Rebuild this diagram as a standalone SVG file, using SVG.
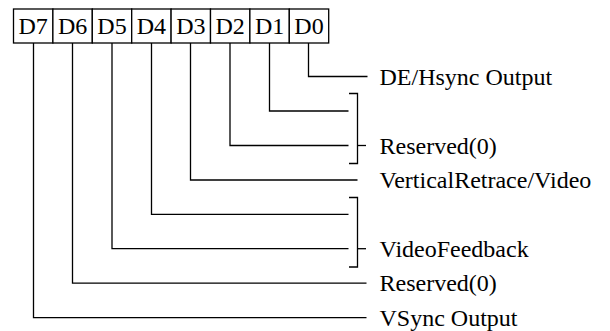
<svg xmlns="http://www.w3.org/2000/svg" width="610" height="331" viewBox="0 0 610 331">
<style>
.ln{stroke:#000;stroke-width:1.3;fill:none}
.cell{stroke:#000;stroke-width:1.3;fill:#fff}
.t{font-family:"Liberation Serif","Times New Roman",serif;font-size:24px;fill:#000}
.c{text-anchor:middle}
</style>
<rect width="610" height="331" fill="#fff"/>
<g id="register">
<g id="d7"><rect class="cell" x="13.5" y="9" width="39.4" height="34"/><text class="t c" x="33.2" y="34">D7</text></g>
<g id="d6"><rect class="cell" x="52.9" y="9" width="39.4" height="34"/><text class="t c" x="72.6" y="34">D6</text></g>
<g id="d5"><rect class="cell" x="92.3" y="9" width="39.4" height="34"/><text class="t c" x="112" y="34">D5</text></g>
<g id="d4"><rect class="cell" x="131.7" y="9" width="39.4" height="34"/><text class="t c" x="151.4" y="34">D4</text></g>
<g id="d3"><rect class="cell" x="171.1" y="9" width="39.4" height="34"/><text class="t c" x="190.8" y="34">D3</text></g>
<g id="d2"><rect class="cell" x="210.5" y="9" width="39.4" height="34"/><text class="t c" x="230.2" y="34">D2</text></g>
<g id="d1"><rect class="cell" x="249.9" y="9" width="39.4" height="34"/><text class="t c" x="269.6" y="34">D1</text></g>
<g id="d0"><rect class="cell" x="289.3" y="9" width="39.4" height="34"/><text class="t c" x="309" y="34">D0</text></g>
</g>
<g id="connectors">
<polyline class="ln" points="308.5,43 308.5,76.5 367.5,76.5"/>
<polyline class="ln" points="269.5,43 269.5,111 348.5,111"/>
<polyline class="ln" points="230,43 230,145.5 348.5,145.5"/>
<polyline class="ln" points="190.5,43 190.5,180 357.5,180"/>
<polyline class="ln" points="151.5,43 151.5,214.3 348.5,214.3"/>
<polyline class="ln" points="112,43 112,248.7 348.5,248.7"/>
<polyline class="ln" points="72.5,43 72.5,283.2 366.5,283.2"/>
<polyline class="ln" points="33.5,43 33.5,317.6 366.5,317.6"/>
<polyline class="ln" points="349,93.5 357.5,93.5 357.5,163.5 349,163.5"/>
<line class="ln" x1="357.5" y1="145.5" x2="366" y2="145.5"/>
<polyline class="ln" points="349,197.5 357.5,197.5 357.5,267 349,267"/>
<line class="ln" x1="357.5" y1="248.7" x2="366" y2="248.7"/>
</g>
<g id="labels">
<text class="t" x="379.5" y="84.5">DE/Hsync Output</text>
<text class="t" x="379.5" y="153.5">Reserved(0)</text>
<text class="t" x="379.5" y="188">VerticalRetrace/Video</text>
<text class="t" x="379.5" y="256.5">VideoFeedback</text>
<text class="t" x="379.5" y="291">Reserved(0)</text>
<text class="t" x="379.5" y="325.5">VSync Output</text>
</g>
</svg>
